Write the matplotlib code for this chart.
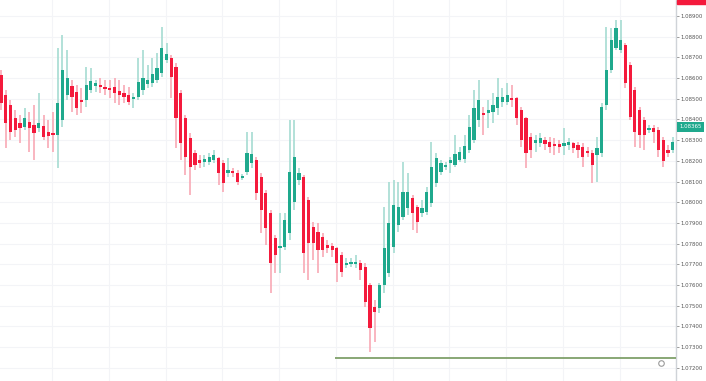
import matplotlib
matplotlib.use("Agg")
import matplotlib.pyplot as plt
import numpy as np

# ціни свічок (open, high, low, close)
opens = [1.08615, 1.08518, 1.08470, 1.08407, 1.08383, 1.08364, 1.08388, 1.08374, 1.08359, 1.08369,
         1.08340, 1.08335, 1.08325, 1.08398, 1.08518, 1.08562, 1.08533, 1.08494, 1.08494, 1.08543,
         1.08562, 1.08567, 1.08557, 1.08552, 1.08557, 1.08538, 1.08528, 1.08518, 1.08499, 1.08509,
         1.08543, 1.08572, 1.08576, 1.08591, 1.08625, 1.08688, 1.08697, 1.08654, 1.08528, 1.08407,
         1.08311, 1.08238, 1.08205, 1.08195, 1.08195, 1.08205, 1.08214, 1.08190, 1.08142, 1.08147,
         1.08142, 1.08118, 1.08147, 1.08190, 1.08205, 1.08122, 1.08045, 1.07949, 1.07828, 1.07780,
         1.07784, 1.07852, 1.08002, 1.08108, 1.08122, 1.08011, 1.07881, 1.07857, 1.07833, 1.07794,
         1.07789, 1.07780, 1.07746, 1.07697, 1.07702, 1.07702, 1.07707, 1.07688, 1.07601, 1.07495,
         1.07490, 1.07601, 1.07659, 1.07784, 1.07891, 1.07929, 1.07973, 1.08021, 1.07978, 1.07949,
         1.07953, 1.07997, 1.08093, 1.08147, 1.08171, 1.08190, 1.08180, 1.08205, 1.08209, 1.08253,
         1.08301, 1.08398, 1.08432, 1.08432, 1.08436, 1.08456, 1.08485, 1.08485, 1.08504, 1.08504,
         1.08446, 1.08407, 1.08316, 1.08287, 1.08287, 1.08301, 1.08291, 1.08282, 1.08282, 1.08272,
         1.08277, 1.08287, 1.08277, 1.08267, 1.08243, 1.08238, 1.08229, 1.08238, 1.08470, 1.08639,
         1.08746, 1.08736, 1.08760, 1.08663, 1.08543, 1.08446, 1.08398, 1.08349, 1.08359, 1.08349,
         1.08301, 1.08253, 1.08253]
highs = [1.08639, 1.08543, 1.08494, 1.08446, 1.08422, 1.08456, 1.08436, 1.08470, 1.08528, 1.08422,
         1.08398, 1.08436, 1.08746, 1.08808, 1.08736, 1.08591, 1.08567, 1.08552, 1.08654, 1.08649,
         1.08591, 1.08601, 1.08591, 1.08591, 1.08601, 1.08591, 1.08567, 1.08557, 1.08528, 1.08697,
         1.08736, 1.08663, 1.08697, 1.08721, 1.08847, 1.08770, 1.08712, 1.08673, 1.08543, 1.08422,
         1.08335, 1.08253, 1.08229, 1.08229, 1.08238, 1.08253, 1.08219, 1.08205, 1.08214, 1.08166,
         1.08156, 1.08137, 1.08340, 1.08340, 1.08219, 1.08142, 1.08060, 1.07963, 1.07842, 1.07949,
         1.07949, 1.08398, 1.08398, 1.08166, 1.08132, 1.08026, 1.07905, 1.07900, 1.07852, 1.07818,
         1.07804, 1.07784, 1.07760, 1.07731, 1.07731, 1.07746, 1.07722, 1.07707, 1.07610, 1.07528,
         1.07610, 1.07978, 1.08098, 1.08108, 1.08098, 1.08195, 1.08142, 1.08035, 1.07987, 1.08011,
         1.08074, 1.08291, 1.08238, 1.08205, 1.08195, 1.08219, 1.08325, 1.08267, 1.08325, 1.08422,
         1.08543, 1.08591, 1.08461, 1.08494, 1.08528, 1.08601, 1.08552, 1.08576, 1.08567, 1.08509,
         1.08461, 1.08412, 1.08335, 1.08325, 1.08335, 1.08316, 1.08316, 1.08311, 1.08301, 1.08359,
         1.08311, 1.08291, 1.08291, 1.08287, 1.08267, 1.08253, 1.08316, 1.08480, 1.08847, 1.08842,
         1.08881, 1.08881, 1.08770, 1.08678, 1.08557, 1.08461, 1.08412, 1.08374, 1.08374, 1.08364,
         1.08316, 1.08277, 1.08316]
lows = [1.08446, 1.08262, 1.08301, 1.08316, 1.08287, 1.08349, 1.08243, 1.08205, 1.08340, 1.08301,
        1.08262, 1.08243, 1.08166, 1.08364, 1.08494, 1.08436, 1.08422, 1.08432, 1.08461, 1.08528,
        1.08533, 1.08528, 1.08518, 1.08504, 1.08480, 1.08470, 1.08480, 1.08470, 1.08456, 1.08494,
        1.08518, 1.08552, 1.08557, 1.08576, 1.08605, 1.08673, 1.08504, 1.08262, 1.08205, 1.08132,
        1.08035, 1.08156, 1.08166, 1.08171, 1.08180, 1.08190, 1.08084, 1.08050, 1.08122, 1.08122,
        1.08084, 1.08108, 1.08132, 1.08166, 1.08011, 1.07852, 1.07794, 1.07562, 1.07659, 1.07659,
        1.07770, 1.07818, 1.07963, 1.08084, 1.07659, 1.07625, 1.07722, 1.07659, 1.07736, 1.07755,
        1.07736, 1.07615, 1.07639, 1.07683, 1.07688, 1.07683, 1.07625, 1.07495, 1.07277, 1.07325,
        1.07466, 1.07562, 1.07639, 1.07755, 1.07857, 1.07915, 1.07939, 1.07866, 1.07852, 1.07929,
        1.07939, 1.07978, 1.08074, 1.08132, 1.08156, 1.08142, 1.08171, 1.08195, 1.08190, 1.08238,
        1.08287, 1.08364, 1.08325, 1.08359, 1.08383, 1.08422, 1.08461, 1.08470, 1.08461, 1.08374,
        1.08267, 1.08166, 1.08214, 1.08243, 1.08267, 1.08253, 1.08238, 1.08229, 1.08238, 1.08229,
        1.08253, 1.08238, 1.08214, 1.08171, 1.08219, 1.08093, 1.08098, 1.08219, 1.08446, 1.08625,
        1.08736, 1.08721, 1.08552, 1.08398, 1.08267, 1.08262, 1.08253, 1.08335, 1.08287, 1.08219,
        1.08171, 1.08219, 1.08238]
closes = [1.08480, 1.08383, 1.08340, 1.08349, 1.08359, 1.08407, 1.08359, 1.08335, 1.08383, 1.08316,
          1.08320, 1.08325, 1.08480, 1.08639, 1.08601, 1.08509, 1.08456, 1.08485, 1.08567, 1.08586,
          1.08576, 1.08557, 1.08547, 1.08543, 1.08528, 1.08518, 1.08509, 1.08485, 1.08509, 1.08581,
          1.08601, 1.08591, 1.08620, 1.08649, 1.08746, 1.08717, 1.08605, 1.08407, 1.08287, 1.08219,
          1.08171, 1.08180, 1.08190, 1.08209, 1.08219, 1.08229, 1.08142, 1.08093, 1.08156, 1.08142,
          1.08098, 1.08122, 1.08238, 1.08233, 1.08045, 1.07963, 1.07876, 1.07707, 1.07746, 1.07789,
          1.07915, 1.08147, 1.08219, 1.08142, 1.07755, 1.07804, 1.07804, 1.07770, 1.07770, 1.07780,
          1.07770, 1.07707, 1.07664, 1.07707, 1.07707, 1.07712, 1.07673, 1.07519, 1.07393, 1.07470,
          1.07601, 1.07780, 1.07900, 1.07987, 1.07978, 1.08050, 1.08050, 1.07949, 1.07905, 1.07973,
          1.08050, 1.08171, 1.08214, 1.08190, 1.08180, 1.08205, 1.08233, 1.08243, 1.08272, 1.08364,
          1.08456, 1.08494, 1.08422, 1.08446, 1.08470, 1.08509, 1.08509, 1.08518, 1.08494, 1.08407,
          1.08301, 1.08238, 1.08253, 1.08301, 1.08311, 1.08282, 1.08267, 1.08272, 1.08267, 1.08287,
          1.08291, 1.08262, 1.08253, 1.08219, 1.08238, 1.08180, 1.08262, 1.08461, 1.08639, 1.08784,
          1.08842, 1.08784, 1.08576, 1.08412, 1.08340, 1.08325, 1.08325, 1.08359, 1.08340, 1.08253,
          1.08200, 1.08238, 1.08291]

price_ticks = [1.072, 1.073, 1.074, 1.075, 1.076, 1.077, 1.078, 1.079, 1.080,
               1.081, 1.082, 1.083, 1.084, 1.085, 1.086, 1.087, 1.088, 1.089]
last_price = 1.08365
level_price = 1.07248
level_start = 70.6

UP = '#1fa98d'
DOWN = '#f41a3c'
UP_WICK = '#a6dcd2'
DOWN_WICK = '#f8a9b5'

fig = plt.figure(figsize=(7.06, 3.81), dpi=100)
ax = fig.add_axes([0, 0, 676 / 706, 1])

o = np.array(opens)
h = np.array(highs)
l = np.array(lows)
c = np.array(closes)
x = np.arange(len(o))
up = c >= o

# сітка
for p in price_ticks:
    ax.axhline(p, color='#f3f4f7', lw=0.8, zorder=0)
for gx in np.arange(10.8, 143, 12):
    ax.axvline(gx, color='#f3f4f7', lw=0.8, zorder=0)

# тіні
ax.vlines(x[up], l[up], h[up], color=UP_WICK, lw=1.2, zorder=1)
ax.vlines(x[~up], l[~up], h[~up], color=DOWN_WICK, lw=1.2, zorder=1)

# тіла свічок (мінімальна висота щоб доджі було видно)
bottom = np.minimum(o, c)
height = np.maximum(np.abs(c - o), 0.00011)
ax.bar(x[up], height[up], bottom=bottom[up], width=0.68, color=UP, zorder=2)
ax.bar(x[~up], height[~up], bottom=bottom[~up], width=0.68, color=DOWN, zorder=2)

# горизонтальний рівень
ax.hlines(level_price, level_start, 143, color='#7fa06a', lw=1.3, zorder=3)
ax.plot(139.5, level_price - 0.00025, 'o', ms=4, mfc='white', mec='#9a9a9a', mew=0.8, zorder=4)

ax.set_xlim(-0.21, 142.7)
ax.set_ylim(1.071367, 1.089773)

ax.yaxis.tick_right()
ax.set_yticks(price_ticks)
ax.set_yticklabels(['%.5f' % p for p in price_ticks])
ax.tick_params(axis='y', labelsize=3.9, colors='#8a8a8a', labelcolor='#555555',
               length=2.0, width=0.6, pad=1.5)
ax.set_xticks([])
for s in ['top', 'left', 'bottom']:
    ax.spines[s].set_visible(False)
ax.spines['right'].set_color('#cfd3d8')
ax.spines['right'].set_linewidth(1.0)

# мітка поточної ціни
ax.annotate('%.5f' % last_price, xy=(1, last_price), xycoords=('axes fraction', 'data'),
            xytext=(2.6, 0), textcoords='offset points', va='center', ha='left',
            fontsize=3.9, color='white', annotation_clip=False,
            bbox=dict(boxstyle='square,pad=0.45', fc=UP, ec='none'))

# червона мітка зверху (обрізана)
fig.patches.append(plt.Rectangle((677 / 706, 1 - 4 / 381), 29 / 706, 4 / 381,
                                 transform=fig.transFigure, color=DOWN, zorder=5))

fig.savefig('out.png', dpi=100, facecolor='white')
